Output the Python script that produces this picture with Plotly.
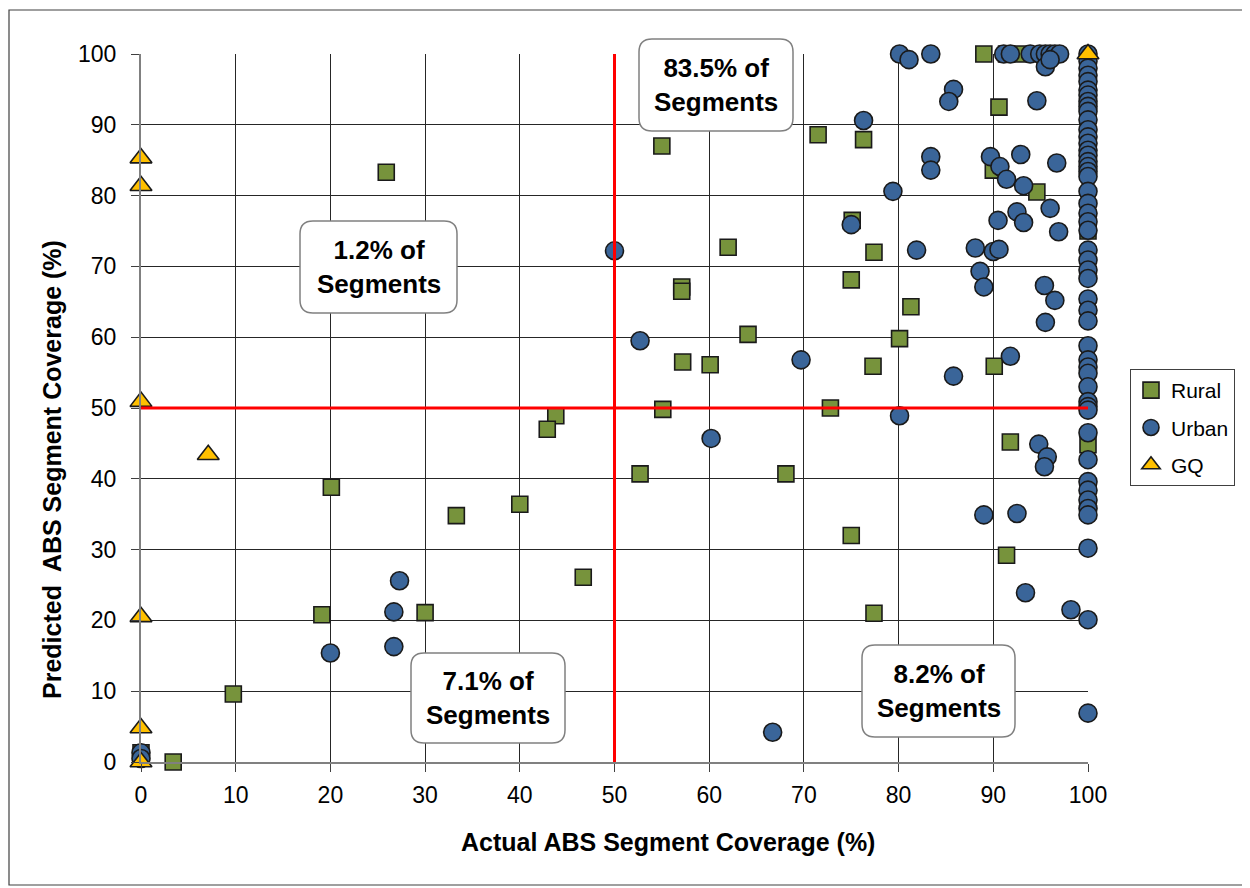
import plotly.graph_objects as go

# ---------------- data ----------------
rural_x = [25.9, 55.0, 71.5, 76.3, 62.0, 57.1, 57.1, 64.1, 57.2, 60.1, 77.3, 75.1, 75.0, 77.4,
           81.3, 80.1, 90.1, 90.0, 90.6, 94.6, 89.0, 91.4, 92.8, 100, 100, 91.8, 43.8, 42.9,
           55.1, 72.8, 52.7, 68.1, 33.3, 40.0, 20.1, 75.0, 46.7, 91.4, 77.4, 30.0, 19.1, 9.75,
           3.4, 0]
rural_y = [83.3, 87.0, 88.6, 87.9, 72.7, 67.1, 66.5, 60.4, 56.5, 56.1, 55.9, 76.5, 68.1, 72.0,
           64.3, 59.8, 55.9, 83.6, 92.5, 80.5, 100, 100, 100, 75.0, 44.8, 45.2, 48.9, 47.0,
           49.8, 50.0, 40.7, 40.7, 34.8, 36.4, 38.8, 32.0, 26.1, 29.2, 21.0, 21.1, 20.8, 9.6,
           0, 1.3]

urban_x = [50.0, 52.7, 60.2, 69.7, 66.7, 27.3, 26.7, 20.0, 26.7, 0, 0, 75.0, 76.3, 79.4, 80.1,
           80.1, 81.1, 83.4, 85.8, 85.3, 94.6, 83.4, 83.4, 89.7, 90.7, 91.4, 92.9, 96.7, 93.2,
           96.0, 92.5, 93.2, 90.5, 96.9, 81.9, 88.1, 90.0, 90.6, 88.6, 89.0, 95.4, 96.5, 95.5,
           85.8, 91.8, 94.8, 95.7, 95.4, 89.0, 92.5, 93.4, 98.2,
           91.1, 91.8, 93.9, 94.9, 95.5, 96.0, 96.5, 97.0, 95.5, 96.0]
urban_y = [72.2, 59.5, 45.7, 56.8, 4.2, 25.6, 21.2, 15.4, 16.3, 1.3, 0.5, 75.9, 90.6, 80.6, 48.9,
           100, 99.2, 100, 95.0, 93.3, 93.4, 85.5, 83.6, 85.5, 84.1, 82.3, 85.8, 84.6, 81.4,
           78.2, 77.7, 76.2, 76.5, 74.9, 72.3, 72.6, 72.1, 72.4, 69.3, 67.1, 67.3, 65.2, 62.1,
           54.5, 57.3, 44.9, 43.1, 41.7, 34.9, 35.1, 23.9, 21.5,
           100, 100, 100, 100, 100, 100, 100, 100, 98.2, 99.2]

# urban segments with 100% actual coverage
urban100_y = [100, 99.0, 98.0, 97.0, 96.1, 94.9, 94.2, 93.3, 92.6, 91.9, 90.7, 89.3, 88.3, 87.4,
              86.4, 85.7, 84.8, 84.1, 83.4, 82.7, 80.6, 78.9, 77.5, 76.3, 75.1, 72.3, 70.9,
              69.5, 68.3, 65.4, 63.8, 62.3, 58.8, 56.8, 55.8, 54.9, 53.0, 50.9, 50.2, 49.7,
              46.5, 42.7, 39.6, 38.4, 37.0, 35.8, 34.9, 30.2, 20.1, 6.9]
urban100_x = [100] * len(urban100_y)

gq_x = [0, 0, 0, 7.1, 0, 0, 0, 100]
gq_y = [85.3, 81.4, 50.9, 43.4, 20.5, 4.8, 0, 100]

threshold = 50
axis_min, axis_max = 0, 100
tick_vals = list(range(0, 101, 10))

x_title = "Actual ABS Segment Coverage (%)"
y_title = "Predicted  ABS Segment Coverage (%)"

box_texts = ["83.5% of<br>Segments", "1.2% of<br>Segments", "7.1% of<br>Segments", "8.2% of<br>Segments"]
# box extents on the page (left, right, top, bottom), in px
box_px = [(639, 793, 39, 131), (300, 457, 221, 313), (411, 565, 653, 743), (862, 1015, 645, 737)]

# ---------------- layout geometry ----------------
OFF = 8                      # default body margin of the html page
PAGE_W, PAGE_H = 1250, 888
W, H = PAGE_W - OFF, PAGE_H - OFF
PLOT_L, PLOT_R, PLOT_T, PLOT_B = 141, 1088, 54, 762   # page px of plot area
ML, MT = PLOT_L - OFF, PLOT_T - OFF
MR, MB = W - (PLOT_R - OFF), H - (PLOT_B - OFF)
PW, PH = PLOT_R - PLOT_L, PLOT_B - PLOT_T


def px2paper(px, py):
    return (px - PLOT_L) / PW, (PLOT_B - py) / PH


FONT = "Arial, Liberation Sans, sans-serif"
EDGE = "#1a1a1a"

fig = go.Figure()
fig.add_trace(go.Scatter(x=rural_x, y=rural_y, mode="markers", name="Rural", legendgroup="r",
                         marker=dict(symbol="square", size=16, color="#77933C",
                                     line=dict(color=EDGE, width=1.6)),
                         cliponaxis=False))
fig.add_trace(go.Scatter(x=urban_x + urban100_x, y=urban_y + urban100_y, mode="markers",
                         name="Urban", legendgroup="u",
                         marker=dict(symbol="circle", size=18, color="#3A6599",
                                     line=dict(color=EDGE, width=1.6)),
                         cliponaxis=False))
fig.add_trace(go.Scatter(x=gq_x, y=gq_y, mode="markers", name="GQ", legendgroup="g",
                         marker=dict(symbol="triangle-up", size=19, color="#FFC000",
                                     line=dict(color=EDGE, width=1.6)),
                         cliponaxis=False))

shapes = []
# red threshold lines
shapes.append(dict(type="line", xref="x", yref="y", x0=threshold, x1=threshold,
                   y0=axis_min, y1=axis_max, line=dict(color="#FF0000", width=3), layer="above"))
shapes.append(dict(type="line", xref="x", yref="y", x0=axis_min - 0.5, x1=axis_max,
                   y0=threshold, y1=threshold, line=dict(color="#FF0000", width=3), layer="above"))

# rounded boxes
r = 13
rx, ry = r / PW, r / PH
annotations = []
for (l, rr, t, b), txt in zip(box_px, box_texts):
    x0, y1 = px2paper(l, t)
    x1, y0 = px2paper(rr, b)
    path = (f"M {x0+rx},{y0} L {x1-rx},{y0} Q {x1},{y0} {x1},{y0+ry} L {x1},{y1-ry} "
            f"Q {x1},{y1} {x1-rx},{y1} L {x0+rx},{y1} Q {x0},{y1} {x0},{y1-ry} "
            f"L {x0},{y0+ry} Q {x0},{y0} {x0+rx},{y0} Z")
    shapes.append(dict(type="path", xref="paper", yref="paper", path=path,
                       fillcolor="white", line=dict(color="#808080", width=1.5), layer="above"))
    cx, cy = px2paper((l + rr) / 2, (t + b) / 2)
    annotations.append(dict(xref="paper", yref="paper", x=cx, y=cy, text=f"<b>{txt}</b>",
                            showarrow=False, font=dict(family=FONT, size=26, color="black"),
                            xanchor="center", yanchor="middle"))

# axis titles (placed as in the reference, off-centre)
tx, ty = px2paper(668, 842)
annotations.append(dict(xref="paper", yref="paper", x=tx, y=ty, text=f"<b>{x_title}</b>",
                        showarrow=False, font=dict(family=FONT, size=25, color="black"),
                        xanchor="center", yanchor="middle"))
tx, ty = px2paper(52, 470)
annotations.append(dict(xref="paper", yref="paper", x=tx, y=ty, text=f"<b>{y_title}</b>",
                        showarrow=False, textangle=-90,
                        font=dict(family=FONT, size=25, color="black"),
                        xanchor="center", yanchor="middle"))

# outer frame
fx0, fy1 = px2paper(9, 10)
fx1, fy0 = px2paper(1246, 885)
shapes.append(dict(type="rect", xref="paper", yref="paper", x0=fx0, x1=fx1, y0=fy0, y1=fy1,
                   line=dict(color="#404040", width=1.2), layer="below"))

lx, ly = px2paper(1130, 369)

fig.update_layout(
    width=W, height=H,
    margin=dict(l=ML, r=MR, t=MT, b=MB, pad=0, autoexpand=False),
    paper_bgcolor="white", plot_bgcolor="white",
    font=dict(family=FONT, color="black"),
    showlegend=True,
    legend=dict(x=lx, y=ly, xanchor="left", yanchor="top", bordercolor="#404040", borderwidth=1,
                font=dict(family=FONT, size=21, color="black"), traceorder="grouped",
                tracegroupgap=7, bgcolor="white", itemwidth=30, entrywidth=62),
    shapes=shapes,
    annotations=annotations,
)

common_axis = dict(range=[axis_min, axis_max], tickvals=tick_vals, showgrid=True,
                   gridcolor="#262626", gridwidth=1, zeroline=False, showline=True,
                   linecolor="#808080", linewidth=2, ticks="outside", ticklen=8,
                   tickcolor="#404040", tickwidth=1, tickfont=dict(family=FONT, size=23),
                   automargin=False, fixedrange=True)

fig.update_xaxes(**common_axis, ticklabelstandoff=3)
fig.update_yaxes(**common_axis, ticklabelstandoff=10)

fig.write_html("out.html")
